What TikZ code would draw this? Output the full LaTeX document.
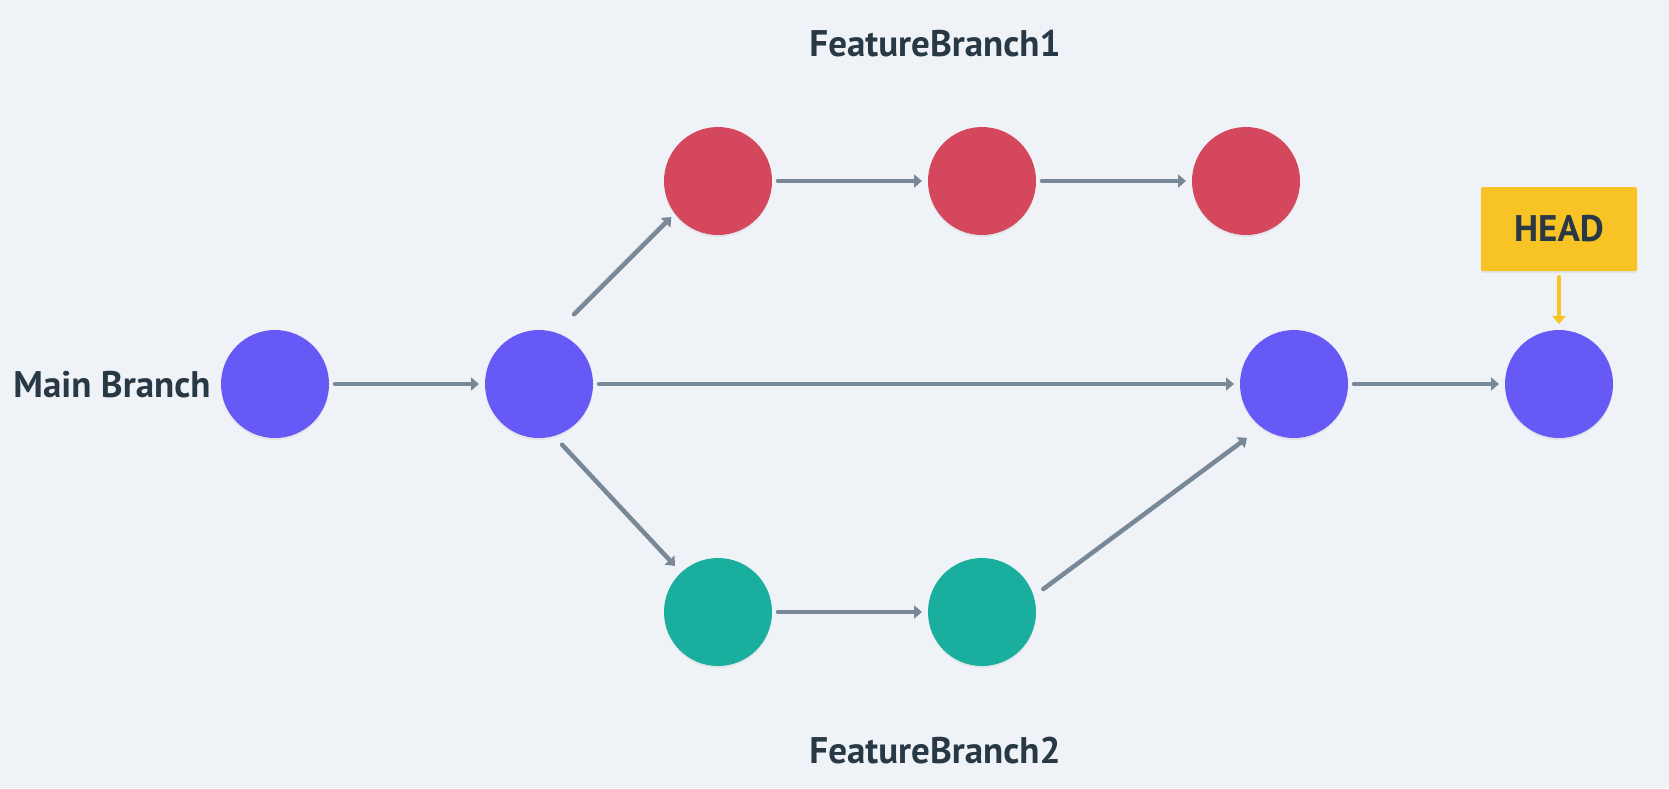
\documentclass[tikz,border=0pt]{standalone}
\usepackage{fontspec}
\setmainfont{PT Sans}
\usetikzlibrary{arrows.meta,shadows}
\definecolor{bgcol}{HTML}{EFF3F7}
\definecolor{maincol}{HTML}{6659F5}
\definecolor{feat1col}{HTML}{D4475C}
\definecolor{feat2col}{HTML}{1AAE9F}
\definecolor{linkcol}{HTML}{788896}
\definecolor{textcol}{HTML}{293845}
\definecolor{headcol}{HTML}{F7C325}
\tikzset{
  >={Triangle[length=8pt,width=13pt]},
  commit/.style = {circle,minimum size=108pt,inner sep=0pt,outer sep=0pt,
    drop shadow={opacity=0.12,shadow xshift=0pt,shadow yshift=-2pt}},
  link/.style = {->,line width=4.5pt,draw=linkcol,line cap=round,
    shorten <=6pt,shorten >=6pt},
  branchname/.style = {text=textcol,anchor=base,
    font=\bfseries\fontsize{37}{42}\selectfont}
}

\begin{document}
\begin{tikzpicture}[x=1pt,y=-1pt]
  \fill[bgcol] (0,0) rectangle (1669,788);
  \useasboundingbox (0,0) rectangle (1669,788);
  % commits
  \node[commit,fill=maincol] (main1) at (275,384) {};
  \node[commit,fill=maincol] (main2) at (539,384) {};
  \node[commit,fill=maincol] (main3) at (1294,384) {};
  \node[commit,fill=maincol] (main4) at (1559,384) {};
  \node[commit,fill=feat1col] (feat1a) at (718,181) {};
  \node[commit,fill=feat1col] (feat1b) at (982,181) {};
  \node[commit,fill=feat1col] (feat1c) at (1246,181) {};
  \node[commit,fill=feat2col] (feat2a) at (718,612) {};
  \node[commit,fill=feat2col] (feat2b) at (982,612) {};
  % labels
  \node[branchname,anchor=base east] (mainname) at (214,397) {Main Branch};
  \node[branchname] (feat1name) at (935,56) {FeatureBranch1};
  \node[branchname] (feat2name) at (935,763) {FeatureBranch2};
  \node[fill=headcol,rounded corners=2pt,minimum width=156pt,minimum height=84pt,
    text=textcol,font=\bfseries\fontsize{37}{42}\selectfont,
    drop shadow={opacity=0.12,shadow xshift=0pt,shadow yshift=-2pt}] (head) at (1559,229) {HEAD};
  % links
  \draw[link] (main1) -- (main2);
  \draw[link] (main2) -- (main3);
  \draw[link] (main3) -- (main4);
  \draw[link] (feat1a) -- (feat1b);
  \draw[link] (feat1b) -- (feat1c);
  \draw[link] (feat2a) -- (feat2b);
  \draw[link,shorten <=26pt,shorten >=5pt] (main2.72) -- (feat1a.217);
  \draw[link,shorten <=12pt,shorten >=9pt] (main2.286) -- (feat2a.133);
  \draw[link,shorten <=12pt,shorten >=18pt] (feat2b.17) -- (main3.233);
  \draw[link,draw=headcol] (head) -- (main4);
\end{tikzpicture}
\end{document}
